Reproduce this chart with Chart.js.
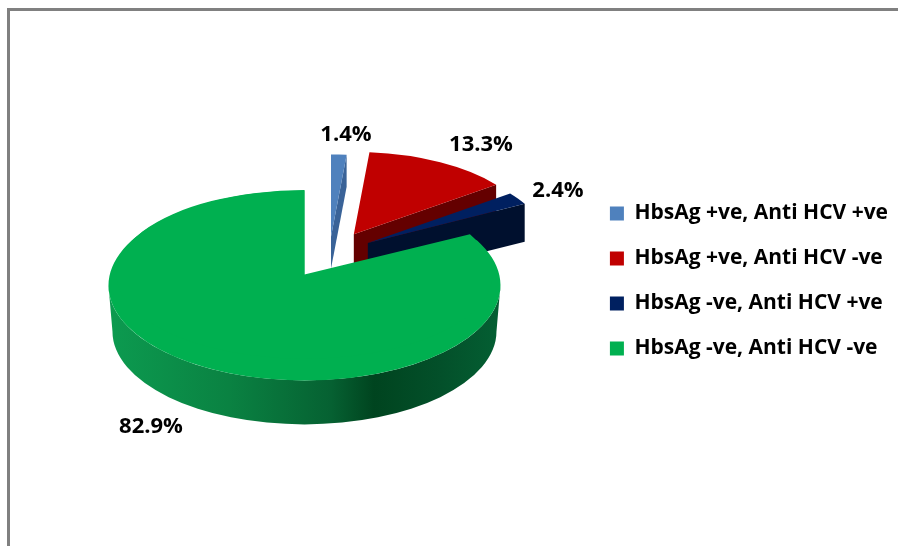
<!DOCTYPE html>
<html lang="en">
<head>
    <meta charset="UTF-8">
    <title>HBsAg and Anti HCV</title>
    <script src="https://cdn.jsdelivr.net/npm/chart.js"></script>
    <style>
        html, body { margin: 0; padding: 0; background: #fff; overflow: hidden; }
        #wrap { position: relative; width: 898px; height: 546px; }
        #frame {
            position: absolute; left: 7px; top: 8px; right: 0; bottom: 0;
            border-left: 3px solid #808080; border-top: 3px solid #808080;
        }
        canvas { position: absolute; left: 0; top: 0; }
    </style>
</head>
<body>
    <div id="wrap">
        <div id="frame"></div>
        <canvas id="pie"></canvas>
    </div>
    <script>
        const categories = ['HbsAg +ve, Anti HCV +ve', 'HbsAg +ve, Anti HCV -ve', 'HbsAg -ve, Anti HCV +ve', 'HbsAg -ve, Anti HCV -ve'];
        const percentValues = [1.4, 13.3, 2.4, 82.9];
        const topColors = ['#4F81BD', '#C00000', '#002060', '#00B050'];
        const wallColors = ['#3A6398', '#640000', '#00102E', '#0A8242'];

        // fake 3D view, the slices get squashed onto the page
        const PIE_X = 329, PIE_Y = 257, PIE_R = 196, TILT = 0.45, EXPLODE = 45;
        const backScaleX = 0.91, backScaleY = 0.42, backDepth = [32, 38, 38];
        const apexNudge = [[0, 0], [3, -5], [1, -3], [-1.5, 0]];
        const labelSpots = [[346, 135], [481, 145], [558, 191], [151, 427]];
        const LABEL_FONT = '700 22px "Open Sans"';

        function midAngle(arc) {
            return (arc.startAngle + arc.endAngle) / 2;
        }

        function apexOf(arc, i) {
            const mid = midAngle(arc);
            return {
                x: PIE_X + Math.cos(mid) * EXPLODE + apexNudge[i][0],
                y: PIE_Y + TILT * Math.sin(mid) * EXPLODE + apexNudge[i][1]
            };
        }

        function drawFace(ctx, arc, ax, ay, sx, sy) {
            const k = PIE_R / arc.outerRadius;
            ctx.save();
            ctx.translate(ax, ay);
            ctx.scale(sx * k, sy * k);
            ctx.translate(-arc.x, -arc.y);
            arc.draw(ctx);
            ctx.restore();
        }

        function drawBackSlice(ctx, arc, i) {
            const a = apexOf(arc, i);
            const cx = a.x + Math.cos(arc.endAngle) * PIE_R * backScaleX;
            const cy = a.y + Math.sin(arc.endAngle) * PIE_R * backScaleY;
            const d = backDepth[i];
            ctx.fillStyle = wallColors[i];
            ctx.beginPath();
            ctx.moveTo(a.x, a.y);
            ctx.lineTo(cx, cy);
            ctx.lineTo(cx, cy + d);
            ctx.lineTo(a.x, a.y + d);
            ctx.closePath();
            ctx.fill();
            drawFace(ctx, arc, a.x, a.y, backScaleX, backScaleY);
        }

        function drawBigSlice(ctx, arc, i) {
            const a = apexOf(arc, i);
            const g = ctx.createLinearGradient(107, 0, 500, 0);
            g.addColorStop(0, '#0C9B50');
            g.addColorStop(0.31, '#0A8242');
            g.addColorStop(0.57, '#066132');
            g.addColorStop(0.68, '#00441F');
            g.addColorStop(0.85, '#03502A');
            g.addColorStop(1, '#045F33');
            ctx.fillStyle = g;
            ctx.beginPath();
            ctx.ellipse(a.x, a.y + 11, PIE_R, 95, 0, 0, Math.PI);
            ctx.ellipse(a.x, a.y + 57, PIE_R - 4, 93, 0, Math.PI, 0, true);
            ctx.closePath();
            ctx.fill();
            // outline is the true ellipse, second pass pulls the tip up to where it sits in perspective
            drawFace(ctx, arc, a.x, a.y + 11, 1, 95 / PIE_R);
            drawFace(ctx, arc, a.x, a.y, 0.96, 0.43);
        }

        const pie3d = {
            id: 'pie3d',
            beforeDatasetDraw(chart, args) {
                const ctx = chart.ctx;
                const arcs = args.meta.data;
                arcs.forEach((arc, i) => {
                    if (i < 3) drawBackSlice(ctx, arc, i);
                    else drawBigSlice(ctx, arc, i);
                });
                return false;
            },
            afterDatasetsDraw(chart) {
                const ctx = chart.ctx;
                ctx.save();
                ctx.font = LABEL_FONT;
                ctx.fillStyle = '#000';
                ctx.textAlign = 'center';
                ctx.textBaseline = 'middle';
                percentValues.forEach((v, i) => {
                    ctx.fillText(v.toFixed(1) + '%', labelSpots[i][0], labelSpots[i][1]);
                });
                ctx.restore();
            }
        };

        new Chart(document.getElementById('pie'), {
            type: 'pie',
            data: {
                labels: categories,
                datasets: [{
                    data: percentValues,
                    backgroundColor: topColors,
                    borderWidth: 0,
                    radius: PIE_R
                }]
            },
            options: {
                responsive: true,
                maintainAspectRatio: false,
                animation: false,
                layout: { padding: { top: 16, right: 0 } },
                plugins: {
                    tooltip: { enabled: false },
                    legend: {
                        position: 'right',
                        labels: {
                            boxWidth: 14,
                            boxHeight: 14,
                            padding: 24,
                            color: '#000',
                            font: { family: '"Open Sans"', size: 21, weight: '700' }
                        }
                    }
                }
            },
            plugins: [pie3d]
        });
    </script>
</body>
</html>
